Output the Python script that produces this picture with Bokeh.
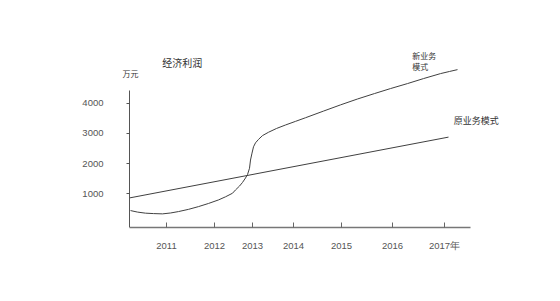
from bokeh.plotting import figure
from bokeh.models import Range1d, Label, FixedTicker
from bokeh.embed import file_html
from bokeh.resources import INLINE

# ---- data (x: schematic time offset, y: 万元) ----
year_ticks = [37, 85, 123, 164, 212, 263, 315]
year_labels = ["2011", "2012", "2013", "2014", "2015", "2016", "2017年"]
value_ticks = [1000, 2000, 3000, 4000]

new_x = [1, 8, 16, 24, 33, 41, 49, 59, 69, 79, 89, 96, 103, 106, 110, 113, 116,
         118, 120, 121, 122.5, 124, 126, 129, 133, 139, 147, 156, 166, 176, 194,
         211, 228, 245, 261, 278, 294, 311, 320, 328]
new_y = [450, 400, 364, 350, 341, 370, 417, 490, 581, 685, 802, 905, 1023, 1132,
         1260, 1380, 1527, 1640, 1850, 2121, 2350, 2559, 2690, 2803, 2930, 3040,
         3165, 3280, 3400, 3520, 3740, 3945, 4140, 4320, 4485, 4650, 4815, 4980,
         5050, 5111]

old_x = [0, 319]
old_y = [868, 2879]

FONT = "Liberation Sans"
CJK = "Noto Sans CJK SC"

p = figure(width=560, height=301, output_backend="svg", toolbar_location=None,
           x_range=Range1d(-69, 411), y_range=Range1d(-110, 6736),
           min_border_left=60, min_border_bottom=74, min_border_top=20,
           min_border_right=20)
p.background_fill_color = "white"
p.border_fill_color = "white"
p.outline_line_color = None
p.xgrid.grid_line_color = None
p.ygrid.grid_line_color = None

p.line(old_x, old_y, line_color="#404040", line_width=1)
p.line(new_x, new_y, line_color="#404040", line_width=1)

xa = p.xaxis[0]
xa.ticker = FixedTicker(ticks=year_ticks)
xa.major_label_overrides = {t: l for t, l in zip(year_ticks, year_labels)}
xa.bounds = (0, 341)
xa.axis_line_color = "#777777"
xa.axis_line_width = 1.5
xa.major_tick_in = 5
xa.major_tick_out = 0
xa.major_tick_line_color = "#666666"
xa.minor_tick_line_color = None
xa.major_label_standoff = 12
xa.major_label_text_font = FONT
xa.major_label_text_font_size = "9.5px"
xa.major_label_text_color = "#555555"

ya = p.yaxis[0]
ya.fixed_location = 0
ya.ticker = FixedTicker(ticks=value_ticks)
ya.bounds = (-110, 4429)
ya.axis_line_color = "#555555"
ya.axis_line_width = 1
ya.major_tick_in = 0
ya.major_tick_out = 3
ya.major_tick_line_color = "#555555"
ya.minor_tick_line_color = None
ya.major_label_standoff = 23
ya.major_label_text_font = FONT
ya.major_label_text_font_size = "9.5px"
ya.major_label_text_color = "#555555"

def lab(x, y, t, size, align="left"):
    p.add_layout(Label(x=x, y=y, text=t, text_font=CJK, text_font_size=size,
                       text_color="#333333", text_align=align,
                       text_baseline="middle"))

lab(1, 4989, "万元", "8px", "center")
lab(52.7, 5362, "经济利润", "10px", "center")
lab(282.7, 5583, "新业务", "8px")
lab(282.7, 5220, "模式", "8px")
lab(324.3, 3440, "原业务模式", "9px")

open("out.html", "w").write(file_html(p, INLINE))
